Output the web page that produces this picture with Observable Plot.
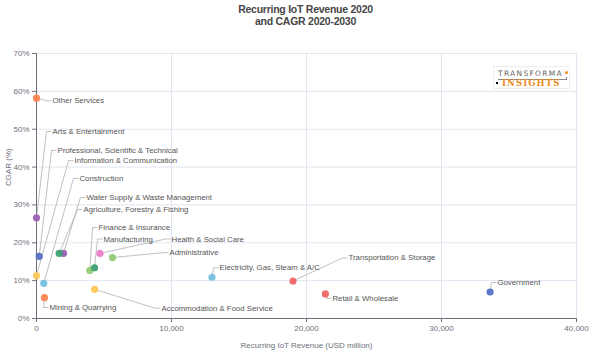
<!DOCTYPE html>
<html>
<head>
<meta charset="utf-8">
<script src="https://cdn.jsdelivr.net/npm/d3@7"></script>
<script src="https://cdn.jsdelivr.net/npm/@observablehq/plot@0.6"></script>
<style>
  html, body { margin: 0; padding: 0; background: #fff; }
  #wrap { position: relative; width: 611px; height: 362px; font-family: "Liberation Sans", Arial, sans-serif; }
  #title { position: absolute; left: 0; top: 4px; width: 611px; text-align: center; font-weight: bold; font-size: 10.5px; line-height: 11.5px; letter-spacing: -0.25px; color: #464646; font-family: "Liberation Sans", Arial, sans-serif; }
  #logo { position: absolute; left: 493px; top: 66px; width: 77px; height: 23px; background: #fff; border: 1px solid #eee; box-sizing: border-box; }
  #logo .t1 { position: absolute; left: 4px; top: 2px; font-size: 7.5px; letter-spacing: 1.3px; color: #666; font-family: "DejaVu Sans", sans-serif; }
  #logo .t2 { position: absolute; left: 8px; top: 11px; font-size: 8.5px; letter-spacing: 1.1px; color: #f08a1c; font-weight: bold; font-family: "DejaVu Serif", serif; }
  #logo .b { position: absolute; left: 4px; top: 10px; width: 68px; height: 2px; border-bottom: 1px solid #888; border-right: 1px solid #888; }
  #logo .d1 { position: absolute; left: 2px; top: 15px; width: 2px; height: 2px; background: #000; }
  #logo .d2 { position: absolute; left: 71px; top: 4px; width: 3px; height: 3px; border-radius: 2px; background: #f08a1c; }
  svg text { font-family: "Liberation Sans", Arial, sans-serif; }
</style>
</head>
<body>
<div id="wrap">
  <div id="chart"></div>
  <div id="title">Recurring IoT Revenue 2020<br>and CAGR 2020-2030</div>
  <div id="logo"><span class="t1">TRANSFORMA</span><div class="b"></div><div class="d1"></div><div class="d2"></div><span class="t2">INSIGHTS</span></div>
</div>
<script>
// ---- data ----
const sectors = [
  "Other Services", "Arts & Entertainment", "Professional, Scientific & Technical",
  "Information & Communication", "Construction", "Water Supply & Waste Management",
  "Agriculture, Forestry & Fishing", "Finance & Insurance", "Manufacturing",
  "Health & Social Care", "Administrative", "Mining & Quarrying",
  "Accommodation & Food Service", "Electricity, Gas, Steam & A/C",
  "Transportation & Storage", "Retail & Wholesale", "Government"
];
const revenue = [0, 0, 200, 0, 540, 2000, 1680, 3950, 4300, 4700, 5630, 590, 4300, 13000, 19000, 21400, 33600];
const cagr    = [58.2, 26.6, 16.4, 11.3, 9.3, 17.2, 17.2, 12.7, 13.4, 17.2, 16.1, 5.5, 7.7, 10.9, 9.9, 6.5, 7.0];
const xTicks = [0, 10000, 20000, 30000, 40000];
const yTicks = [0, 10, 20, 30, 40, 50, 60, 70];

// ---- styling / layout (not data) ----
const colors = ["#fc8452", "#9a60b4", "#5470c6", "#fac858", "#73c0de", "#9a60b4",
  "#3ba272", "#91cc75", "#3ba272", "#ea7ccc", "#91cc75", "#fc8452", "#fac858",
  "#73c0de", "#ee6666", "#ee6666", "#5470c6"];
// leader-line elbow positions (in axis units) where each label starts
const elbowRevenue = [740, 740, 1110, 2370, 2740, 3260, 3040, 4150, 4520, 9560, 9410, 520, 8810, 13110, 22670, 21480, 33700];
const elbowCagr    = [57.5, 49.4, 44.4, 41.7, 37.0, 32.0, 28.8, 24.0, 21.0, 21.0, 17.4, 2.9, 2.7, 13.4, 16.0, 5.3, 9.5];

const W = 611, H = 362;
const mL = 36, mR = 35, mT = 53, mB = 44;
const pxPerRev = 40000 / (W - mL - mR);
const seg = 5 * pxPerRev;

const rows = sectors.map((s, i) => ({
  sector: s, revenue: revenue[i], cagr: cagr[i], color: colors[i],
  ex: elbowRevenue[i], ey: elbowCagr[i], ex2: elbowRevenue[i] + seg
}));

const gridC = "#E0E6F1";
const chart = Plot.plot({
  width: W, height: H,
  marginLeft: mL, marginRight: mR, marginTop: mT, marginBottom: mB,
  style: { fontSize: "8px", color: "#6E7079", background: "#fff", overflow: "visible" },
  x: { domain: [0, 40000], ticks: xTicks, tickFormat: d3.format(","), tickSize: 4, tickPadding: 3, label: null },
  y: { domain: [0, 70], ticks: yTicks, tickFormat: d => d + "%", tickSize: 4, tickPadding: 3, label: null },
  marks: [
    Plot.ruleX(xTicks.slice(1), { stroke: gridC, strokeWidth: 1 }),
    Plot.ruleY(yTicks.slice(1), { stroke: gridC, strokeWidth: 1 }),
    Plot.ruleX([0], { stroke: "#6E7079", strokeWidth: 1 }),
    Plot.ruleY([0], { stroke: "#6E7079", strokeWidth: 1 }),
    Plot.link(rows, { x1: "revenue", y1: "cagr", x2: "ex", y2: "ey", stroke: "#b0b0b0", strokeWidth: 0.8 }),
    Plot.link(rows, { x1: "ex", y1: "ey", x2: "ex2", y2: "ey", stroke: "#b0b0b0", strokeWidth: 0.8 }),
    Plot.dot(rows, { x: "revenue", y: "cagr", r: 3.6, fill: d => d.color, fillOpacity: 0.95, stroke: null }),
    Plot.text(rows, { x: "ex", y: "ey", text: "sector", textAnchor: "start", dx: 6, fill: "#555", fontSize: 7.8 }),
    Plot.text(["CGAR (%)"], { frameAnchor: "left", rotate: -90, dx: -28, fill: "#6E7079", fontSize: 8 }),
    Plot.text(["Recurring IoT Revenue (USD million)"], { frameAnchor: "bottom", dy: 29, fill: "#6E7079", fontSize: 8 })
  ]
});
document.getElementById("chart").appendChild(chart);
</script>
</body>
</html>
